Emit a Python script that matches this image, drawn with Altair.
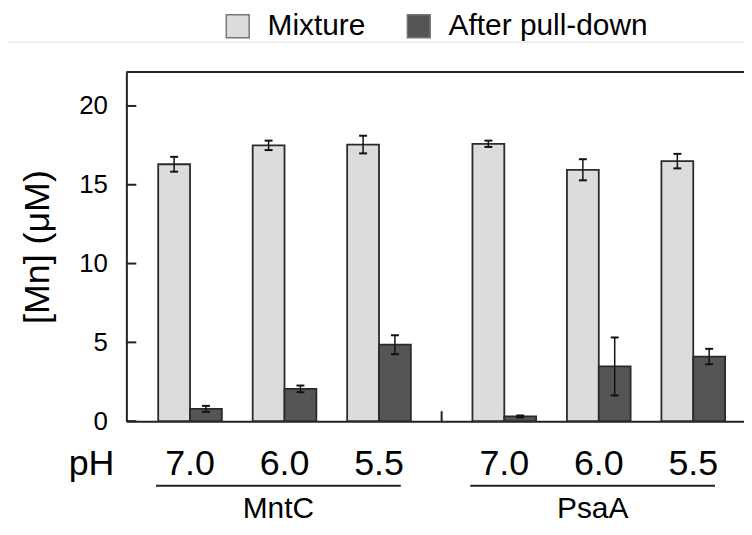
import altair as alt
import pandas as pd

# ---- data ----
groups = ["MntC", "PsaA"]
ph_levels = ["7.0", "6.0", "5.5"]
series = ["Mixture", "After pull-down"]
mix_mean = [16.3, 17.5, 17.55, 17.6, 15.95, 16.5]
mix_err = [0.47, 0.30, 0.56, 0.20, 0.67, 0.46]
pull_mean = [0.78, 2.05, 4.85, 0.30, 3.47, 4.10]
pull_err = [0.19, 0.21, 0.60, 0.06, 1.84, 0.49]
y_ticks = [0, 5, 10, 15, 20]

# ---- layout parameters ----
W, H = 621, 351
PAD_L, PAD_T, PAD_B = 119, 63, 104
GROUP_STEP = 3.326   # distance (in slot units) between first pairs of the two groups
BAR_W = 0.337        # bar width in slot units
X_MIN, X_MAX = -0.674, 5.863
FONT = "Liberation Sans"

rows, conds = [], []
means = [mix_mean, pull_mean]
errs = [mix_err, pull_err]
for gi, g in enumerate(groups):
    for pi, ph in enumerate(ph_levels):
        k = gi * len(ph_levels) + pi
        c = gi * GROUP_STEP + pi
        conds.append({"group": g, "ph": ph, "center": c})
        for si, s in enumerate(series):
            x0 = c - BAR_W + si * BAR_W
            m, e = means[si][k], errs[si][k]
            rows.append({"group": g, "ph": ph, "series": s, "x0": x0, "x1": x0 + BAR_W,
                         "errx": x0 + BAR_W / 2, "mean": m, "lo": m - e, "hi": m + e})
df = pd.DataFrame(rows)
cdf = pd.DataFrame(conds)
gdf = cdf.groupby("group", sort=False)["center"].agg(["min", "max"]).reset_index()
gdf["lx0"] = gdf["min"] - 0.36
gdf["lx1"] = gdf["max"] + 0.23
gdf["mid"] = (gdf["lx0"] + gdf["lx1"]) / 2
sep_df = pd.DataFrame({"sx": [(cdf["center"].iloc[2] + cdf["center"].iloc[3]) / 2]})
tick_df = pd.DataFrame({"t": y_ticks, "ax": [X_MIN] * len(y_ticks)})

xs = alt.Scale(domain=[X_MIN, X_MAX], nice=False, zero=False)
ys = alt.Scale(domain=[0, 22.15], nice=False, zero=True)
xax = alt.Axis(labels=False, ticks=False, grid=False, title=None,
               domainColor="#222", domainWidth=2)
yax = alt.Axis(values=y_ticks, ticks=False, grid=False, domainColor="#222", domainWidth=2,
               labelFontSize=26, labelColor="black", labelPadding=19, labelFont=FONT,
               title="[Mn] (μM)", titleFontSize=36, titleFontWeight="normal",
               titleColor="black", titlePadding=22, titleFont=FONT)

base = alt.Chart(df)
bars = base.mark_bar(stroke="#2a2a2a", strokeWidth=1.8).encode(
    x=alt.X("x0:Q", scale=xs, axis=xax),
    x2="x1:Q",
    y=alt.Y("mean:Q", scale=ys, axis=yax),
    y2=alt.datum(0),
    color=alt.Color("series:N",
                    scale=alt.Scale(domain=series, range=["#dcdcdc", "#555555"]),
                    legend=alt.Legend(orient="none", legendX=97, legendY=-61,
                                      direction="horizontal", title=None,
                                      symbolType="square", symbolSize=529,
                                      symbolStrokeColor="#777", symbolStrokeWidth=1.5,
                                      labelFontSize=30, labelFont=FONT, labelColor="black",
                                      labelLimit=400, labelOffset=15, columnPadding=38,
                                      padding=0)),
)
err_v = base.mark_rule(color="#111", strokeWidth=1.5).encode(
    x=alt.X("errx:Q", scale=xs, axis=xax),
    y=alt.Y("lo:Q", scale=ys, axis=yax), y2="hi:Q")
cap_lo = base.mark_rule(color="#111", strokeWidth=2, xOffset=-4, x2Offset=4).encode(
    x=alt.X("errx:Q", scale=xs, axis=xax), x2="errx:Q",
    y=alt.Y("lo:Q", scale=ys, axis=yax), y2="lo:Q")
cap_hi = base.mark_rule(color="#111", strokeWidth=2, xOffset=-4, x2Offset=4).encode(
    x=alt.X("errx:Q", scale=xs, axis=xax), x2="errx:Q",
    y=alt.Y("hi:Q", scale=ys, axis=yax), y2="hi:Q")

# inward y ticks: short horizontal segments starting at the left axis line
yticks_in = alt.Chart(tick_df).mark_rule(color="#222", strokeWidth=2,
                                         xOffset=0, x2Offset=10).encode(
    x=alt.X("ax:Q", scale=xs, axis=xax), x2="ax:Q",
    y=alt.Y("t:Q", scale=ys, axis=yax), y2="t:Q")
sep = alt.Chart(sep_df).mark_rule(color="#222", strokeWidth=2).encode(
    x=alt.X("sx:Q", scale=xs, axis=xax), y=alt.value(H - 10), y2=alt.value(H))
top = alt.Chart(sep_df).mark_rule(color="#222", strokeWidth=2).encode(
    x=alt.value(0), x2=alt.value(W), y=alt.value(0))
header_line = alt.Chart(sep_df).mark_rule(color="#dddddd", strokeWidth=1).encode(
    x=alt.value(-PAD_L), x2=alt.value(W), y=alt.value(-30))

ph_text = alt.Chart(cdf).mark_text(fontSize=36, font=FONT, baseline="alphabetic",
                                    color="black").encode(
    x=alt.X("center:Q", scale=xs, axis=xax), y=alt.value(H + 54), text="ph:N")
ph_title = alt.Chart(pd.DataFrame({"t": ["pH"]})).mark_text(
    fontSize=36, font=FONT, baseline="alphabetic", color="black").encode(
    x=alt.value(-35), y=alt.value(H + 54), text="t:N")
glines = alt.Chart(gdf).mark_rule(color="#222", strokeWidth=2).encode(
    x=alt.X("lx0:Q", scale=xs, axis=xax), x2="lx1:Q", y=alt.value(H + 65))
gtext = alt.Chart(gdf).mark_text(fontSize=30, font=FONT, baseline="alphabetic",
                                  color="black").encode(
    x=alt.X("mid:Q", scale=xs, axis=xax), y=alt.value(H + 97), text="group:N")

chart = alt.layer(header_line, bars, err_v, cap_lo, cap_hi, yticks_in, sep, top,
                  ph_text, ph_title, glines, gtext).properties(
    width=W, height=H,
    autosize=alt.AutoSizeParams(type="none"),
    padding={"left": PAD_L, "top": PAD_T, "right": 0, "bottom": PAD_B},
).configure_view(stroke=None).configure(font=FONT)

chart.save("out.html", embed_options={"renderer": "svg", "actions": False})
